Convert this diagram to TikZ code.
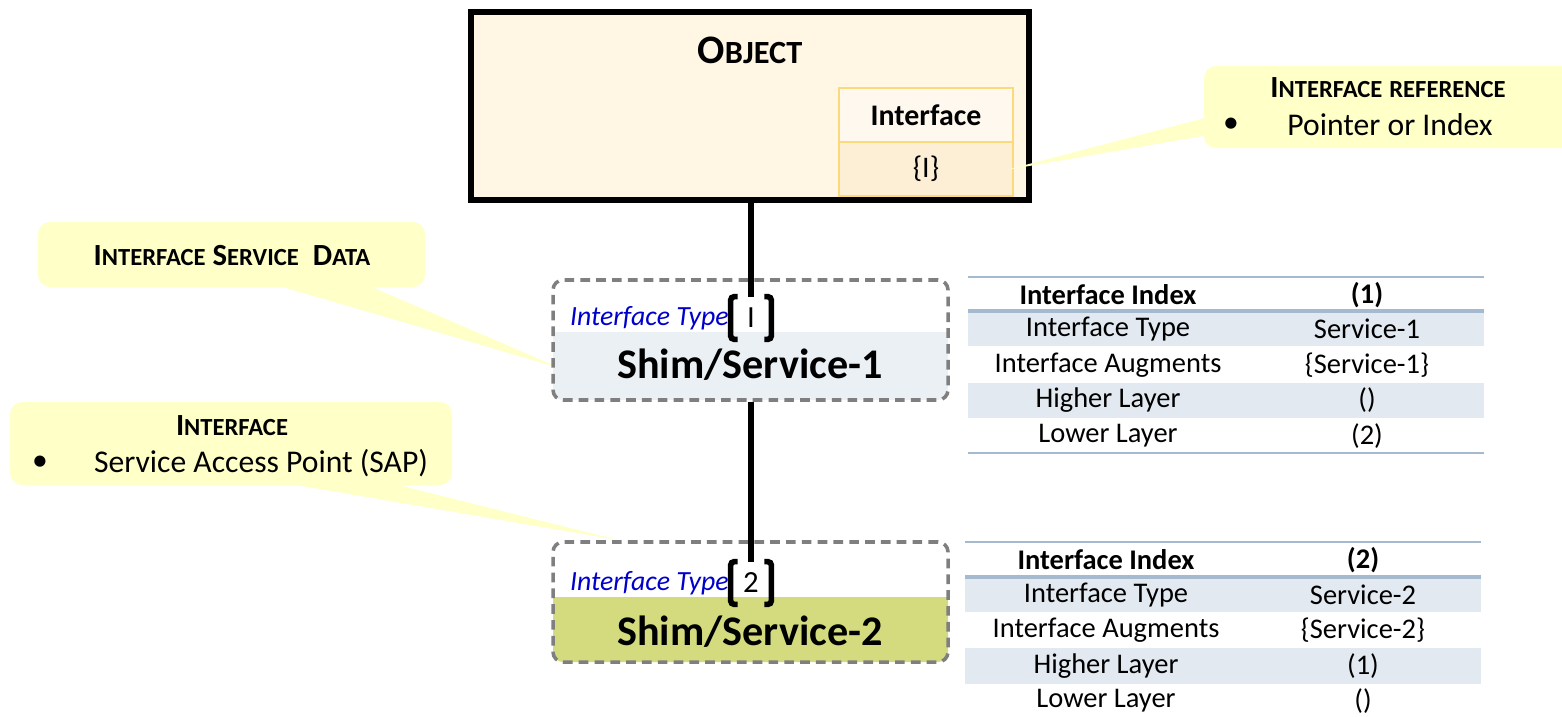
\documentclass[tikz,border=0pt]{standalone}
\usepackage{fontspec}
\usepackage{graphicx}
\setmainfont{Carlito}

\definecolor{objfill}{HTML}{FFF7E4}
\definecolor{ifline}{HTML}{FCD97A}
\definecolor{ifhead}{HTML}{FFF8EE}
\definecolor{ifval}{HTML}{FDEFD6}
\definecolor{notefill}{HTML}{FFFFC8}
\definecolor{shimline}{HTML}{7F7F7F}
\definecolor{bandA}{HTML}{EBF0F5}
\definecolor{bandB}{HTML}{D3DB7E}
\definecolor{ifblue}{HTML}{0000CC}
\definecolor{tabline}{HTML}{A5B9CF}
\definecolor{tabshade}{HTML}{E2E9F1}

% fake small caps
\newcommand{\smc}[2]{#1\scalebox{0.8}{#2}}

\begin{document}
\begin{tikzpicture}[
   objbox/.style={draw, line width=3pt, fill=objfill, minimum width=11.16cm, minimum height=3.76cm},
   ifcell/.style={draw=ifline, line width=1.1pt, minimum width=3.48cm, minimum height=1.08cm, inner sep=0pt},
   note/.style={fill=notefill, rounded corners=0.24cm},
   shimbox/.style={draw=shimline, line width=2pt, dash pattern=on 5.5pt off 3.5pt, rounded corners=0.2cm, minimum width=7.9cm, minimum height=2.4cm},
   brk/.style={minimum width=0.8cm, minimum height=0.84cm, inner sep=0pt, font=\fontsize{17.5}{20}\selectfont},
   link/.style={line width=3.4pt},
   bracket/.style={line width=3.2pt, rounded corners=2pt},
   notetitle/.style={inner sep=0pt, font=\fontsize{17.5}{20}\selectfont\bfseries},
   notetext/.style={inner sep=0pt, font=\fontsize{18}{21}\selectfont},
   typelab/.style={anchor=east, inner sep=1pt, text=ifblue, font=\fontsize{15.8}{18}\selectfont\itshape},
   shimtxt/.style={inner sep=0pt, font=\fontsize{24}{28}\selectfont\bfseries},
   tabtxt/.style={inner sep=0pt, font=\fontsize{16.2}{19}\selectfont},
   tabhead/.style={inner sep=0pt, font=\fontsize{16.2}{19}\selectfont\bfseries},
   thinrule/.style={draw=tabline, line width=1.2pt},
   thickrule/.style={draw=tabline, line width=1.8pt}
]
\useasboundingbox (0,0) rectangle (31.24,-14.32);

% object
      \node [objbox] at (15,-2.12) (obj) {};
      \node [inner sep=0pt, font=\fontsize{23}{26}\selectfont\bfseries] at (15,-1.0) (objtitle) {\smc{O}{BJECT}};
         \node [ifcell, fill=ifhead, font=\fontsize{17}{20}\selectfont\bfseries] at (18.52,-2.30) (ifhead) {Interface};
         \node [ifcell, fill=ifval, font=\fontsize{17}{20}\selectfont] at (18.52,-3.38) (ifval) {\{I\}};

% callouts
   \node [note, minimum width=7.52cm, minimum height=1.64cm] at (27.84,-2.14) (refnote) {};
   \coordinate (reftip) at (20.12,-3.40);
   \fill [notefill] ([xshift=0.1cm, yshift=-0.2cm]refnote.west) -- (reftip) -- ([xshift=0.1cm, yshift=-0.56cm]refnote.west) -- cycle;
      \node [notetitle] at (27.76,-1.76) (reftitle) {\smc{I}{NTERFACE} \scalebox{0.8}{REFERENCE}};
      \node [notetext] at (24.62,-2.50) (refdot) {\textbullet};
      \node [notetext] at (27.8,-2.50) (reftext) {Pointer or Index};

   \node [note, minimum width=7.74cm, minimum height=1.30cm] at (4.63,-5.09) (sdnote) {};
   \coordinate (sdtip) at (11.2,-7.36);
   \fill [notefill] ([xshift=0.71cm, yshift=0.1cm]sdnote.south) -- (sdtip) -- ([xshift=2.59cm, yshift=0.1cm]sdnote.south) -- cycle;
      \node [notetitle] at (4.64,-5.12) (sdtitle) {\smc{I}{NTERFACE} \smc{S}{ERVICE}\ \ \smc{D}{ATA}};

   \node [note, minimum width=8.84cm, minimum height=1.66cm] at (4.62,-8.87) (ifnote) {};
   \coordinate (iftip) at (12.36,-10.8);
   \fill [notefill] ([xshift=0.76cm, yshift=0.1cm]ifnote.south) -- (iftip) -- ([xshift=2.98cm, yshift=0.1cm]ifnote.south) -- cycle;
      \node [notetitle] at (4.64,-8.52) (iftitle) {\smc{I}{NTERFACE}};
      \node [notetext] at (0.8,-9.26) (ifdot) {\textbullet};
      \node [notetext] at (5.22,-9.26) (iftext) {Service Access Point (SAP)};

% shim 1
   \fill [bandA] (11.06,-6.64) -- (18.96,-6.64) [rounded corners=0.2cm] -- (18.96,-8.0) -- (11.06,-8.0) [sharp corners] -- cycle;
   \node [shimbox] at (15.01,-6.8) (shimA) {};
      \node [brk] at (15.02,-6.36) (brA) {I};
      \node [typelab] at (brA.west) (typeA) {Interface Type};
      \node [shimtxt] at (15,-7.3) (nameA) {Shim/Service-1};

% shim 2
   \fill [bandB] (11.06,-11.94) -- (18.96,-11.94) [rounded corners=0.2cm] -- (18.96,-13.24) -- (11.06,-13.24) [sharp corners] -- cycle;
   \node [shimbox] at (15.01,-12.04) (shimB) {};
      \node [brk] at (15.02,-11.66) (brB) {2};
      \node [typelab] at (brB.west) (typeB) {Interface Type};
      \node [shimtxt] at (15,-12.64) (nameB) {Shim/Service-2};

% links and brackets
\draw [link] (brA.north |- obj.south) -- (brA.north);
\draw [link] (brB.north |- shimA.south) -- (brB.north);
\draw [bracket] ([xshift=0.14cm]brA.north west) -- (brA.north west) -- (brA.south west) -- ([xshift=0.14cm]brA.south west);
\draw [bracket] ([xshift=-0.14cm]brA.north east) -- (brA.north east) -- (brA.south east) -- ([xshift=-0.14cm]brA.south east);
\draw [bracket] ([xshift=0.14cm]brB.north west) -- (brB.north west) -- (brB.south west) -- ([xshift=0.14cm]brB.south west);
\draw [bracket] ([xshift=-0.14cm]brB.north east) -- (brB.north east) -- (brB.south east) -- ([xshift=-0.14cm]brB.south east);

% table 1
\fill [tabshade] (19.36,-6.24) rectangle (29.68,-6.92);
\fill [tabshade] (19.36,-7.66) rectangle (29.68,-8.36);
\draw [thinrule] (19.36,-5.54) -- (29.68,-5.54);
\draw [thickrule] (19.36,-6.22) -- (29.68,-6.22);
\draw [thinrule] (19.36,-9.06) -- (29.68,-9.06);
      \node [tabhead] at (22.16,-5.90) (t1hA) {Interface Index};
      \node [tabhead] at (27.34,-5.90) (t1hB) {(1)};
      \node [tabtxt] at (22.16,-6.58) (t1aA) {Interface Type};
      \node [tabtxt] at (27.34,-6.58) (t1aB) {Service-1};
      \node [tabtxt] at (22.16,-7.30) (t1bA) {Interface Augments};
      \node [tabtxt] at (27.34,-7.30) (t1bB) {\{Service-1\}};
      \node [tabtxt] at (22.16,-8.00) (t1cA) {Higher Layer};
      \node [tabtxt] at (27.34,-8.00) (t1cB) {()};
      \node [tabtxt] at (22.16,-8.72) (t1dA) {Lower Layer};
      \node [tabtxt] at (27.34,-8.72) (t1dB) {(2)};

% table 2
\fill [tabshade] (19.3,-11.56) rectangle (29.62,-12.24);
\fill [tabshade] (19.3,-12.96) rectangle (29.62,-13.68);
\draw [thinrule] (19.3,-10.84) -- (29.62,-10.84);
\draw [thickrule] (19.3,-11.54) -- (29.62,-11.54);
      \node [tabhead] at (22.12,-11.20) (t2hA) {Interface Index};
      \node [tabhead] at (27.26,-11.20) (t2hB) {(2)};
      \node [tabtxt] at (22.12,-11.90) (t2aA) {Interface Type};
      \node [tabtxt] at (27.26,-11.90) (t2aB) {Service-2};
      \node [tabtxt] at (22.12,-12.60) (t2bA) {Interface Augments};
      \node [tabtxt] at (27.26,-12.60) (t2bB) {\{Service-2\}};
      \node [tabtxt] at (22.12,-13.32) (t2cA) {Higher Layer};
      \node [tabtxt] at (27.26,-13.32) (t2cB) {(1)};
      \node [tabtxt] at (22.12,-14.02) (t2dA) {Lower Layer};
      \node [tabtxt] at (27.26,-14.02) (t2dB) {()};
%
\end{tikzpicture}
\end{document}
